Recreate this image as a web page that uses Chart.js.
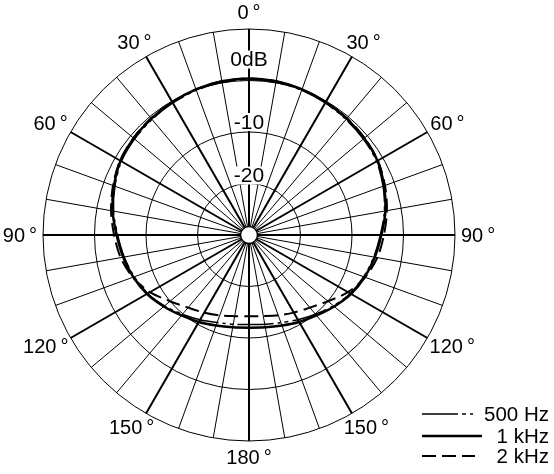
<!DOCTYPE html>
<html>
<head>
<meta charset="utf-8">
<title>Polar pattern</title>
<script src="https://cdn.jsdelivr.net/npm/chart.js@4.4.1/dist/chart.umd.min.js"></script>
<style>
    html, body { margin: 0; padding: 0; background: #fff; }
    #wrap { width: 554px; height: 474px; position: relative; }
</style>
</head>
<body>
<div id="wrap"><canvas id="polarChart"></canvas></div>
<script>
    // angle of incidence, clockwise from the front (deg)
    const angles = [0, 10, 20, 30, 40, 50, 60, 70, 80, 90, 100, 110,
                    120, 130, 140, 150, 160, 170, 180, 190, 200, 210, 220, 230,
                    240, 250, 260, 270, 280, 290, 300, 310, 320, 330, 340, 350];

    // response in dB
    const hz500 = [0.2, 0.1, -0.1, -0.4, -0.7, -1.0, -1.4, -2.3, -3.3, -4.5, -5.4, -6.3,
                   -7.3, -8.6, -9.9, -11.0, -11.9, -12.4, -12.6, -12.4, -11.9, -11.0, -9.9, -8.6,
                   -7.3, -6.3, -5.4, -4.5, -3.3, -2.3, -1.4, -1.0, -0.7, -0.4, -0.1, 0.1];
    const khz1 = [0.4, 0.3, 0.1, -0.2, -0.5, -0.8, -1.2, -2.1, -3.1, -4.3, -5.2, -6.1,
                  -7.1, -8.4, -9.6, -10.5, -11.3, -11.8, -12.0, -11.8, -11.3, -10.5, -9.6, -8.4,
                  -7.1, -6.1, -5.2, -4.3, -3.1, -2.1, -1.2, -0.8, -0.5, -0.2, 0.1, 0.3];
    const khz2 = [0.4, 0.3, 0.1, -0.2, -0.4, -0.7, -1.1, -1.9, -2.8, -3.8, -4.7, -6.0,
                  -7.8, -10.0, -11.6, -12.6, -13.4, -14.0, -14.2, -14.0, -13.4, -12.6, -11.6, -10.0,
                  -7.8, -6.0, -4.7, -3.8, -2.8, -1.9, -1.1, -0.7, -0.4, -0.2, 0.1, 0.3];

    // ring labels
    const dbTicks = [0, -10, -20];
    const dbTickText = ['0dB', '-10', '-20'];

    const FONT = 'Liberation Sans, Arial, Helvetica, sans-serif';

    function angleText(a) {
        if (a % 30 !== 0) return '';
        return (a > 180 ? 360 - a : a) + '\u2009°';
    }

    // angle labels just outside the outer ring
    const angleLabels = {
        id: 'angleLabels',
        afterDatasetsDraw(chart) {
            const sc = chart.scales.r;
            const ctx = chart.ctx;
            const outer = sc.getDistanceFromCenterForValue(sc.max);
            ctx.save();
            ctx.font = '20px ' + FONT;
            ctx.fillStyle = '#000';
            ctx.textAlign = 'center';
            ctx.textBaseline = 'middle';
            chart.data.labels.forEach((a, i) => {
                const txt = angleText(a);
                if (!txt) return;
                const p = sc.getPointPosition(i, outer + 6);
                const ux = Math.cos(p.angle), uy = Math.sin(p.angle);
                const w = ctx.measureText(txt).width;
                ctx.fillText(txt, p.x + ux * w / 2, p.y + uy * 10.5 + 1);
            });
            ctx.restore();
        }
    };

    // labels sit a little above their ring, with a white box behind
    const ringLabels = {
        id: 'ringLabels',
        afterDatasetsDraw(chart) {
            const sc = chart.scales.r;
            const ctx = chart.ctx;
            const lift = { '0': 21, '-10': 10, '-20': 8 };
            ctx.save();
            ctx.font = '21px ' + FONT;
            ctx.textAlign = 'center';
            ctx.textBaseline = 'middle';
            dbTicks.forEach((v, i) => {
                const y = sc.yCenter - sc.getDistanceFromCenterForValue(v) - lift[String(v)];
                const w = ctx.measureText(dbTickText[i]).width;
                ctx.fillStyle = '#fff';
                ctx.fillRect(sc.xCenter - w / 2 - 1, y - 9, w + 2, 18);
                ctx.fillStyle = '#000';
                ctx.fillText(dbTickText[i], sc.xCenter, y + 1);
            });

            // hole in the middle
            ctx.beginPath();
            ctx.arc(sc.xCenter, sc.yCenter, 8.5, 0, Math.PI * 2);
            ctx.fillStyle = '#fff';
            ctx.fill();
            ctx.lineWidth = 1.5;
            ctx.strokeStyle = '#000';
            ctx.stroke();
            ctx.restore();
        }
    };

    // line samples + right aligned text, bottom right
    const lineLegend = {
        id: 'lineLegend',
        afterDraw(chart) {
            const ctx = chart.ctx;
            const rows = [414, 436, 456];
            ctx.save();
            ctx.font = '20.5px ' + FONT;
            ctx.textAlign = 'right';
            ctx.textBaseline = 'middle';
            chart.data.datasets.forEach((ds, i) => {
                const y = rows[i];
                ctx.beginPath();
                ctx.setLineDash(ds.borderDash || []);
                ctx.lineWidth = ds.borderWidth;
                ctx.strokeStyle = '#000';
                ctx.moveTo(422, y);
                ctx.lineTo(i === 1 ? 482 : 475, y);
                ctx.stroke();
                ctx.setLineDash([]);
                ctx.fillStyle = '#000';
                ctx.fillText(ds.label, 549, y + 1);
            });
            ctx.restore();
        }
    };

    const ctx = document.getElementById('polarChart');
    new Chart(ctx, {
        type: 'radar',
        data: {
            labels: angles,
            datasets: [
                { label: '500 Hz', data: hz500, borderColor: '#000', borderWidth: 1.5,
                  borderDash: [36, 4, 4, 4, 3, 4], fill: false, pointRadius: 0, tension: 0.3 },
                { label: '1 kHz', data: khz1, borderColor: '#000', borderWidth: 2.5,
                  fill: false, pointRadius: 0, tension: 0.3 },
                { label: '2 kHz', data: khz2, borderColor: '#000', borderWidth: 2,
                  borderDash: [14, 6], fill: false, pointRadius: 0, tension: 0.3 }
            ]
        },
        options: {
            responsive: true,
            maintainAspectRatio: false,
            animation: false,
            layout: { padding: { left: 43, right: 99, top: 29, bottom: 33 } },
            plugins: {
                legend: { display: false },
                tooltip: { enabled: false }
            },
            scales: {
                r: {
                    min: -30,
                    max: 10,
                    ticks: { stepSize: 10, display: false },
                    grid: { color: '#000', lineWidth: 1, circular: true },
                    angleLines: {
                        color: '#000',
                        lineWidth: (c) => (c.index % 3 === 0 ? 2 : 1)
                    },
                    pointLabels: { display: false }
                }
            }
        },
        plugins: [angleLabels, ringLabels, lineLegend]
    });
</script>
</body>
</html>
